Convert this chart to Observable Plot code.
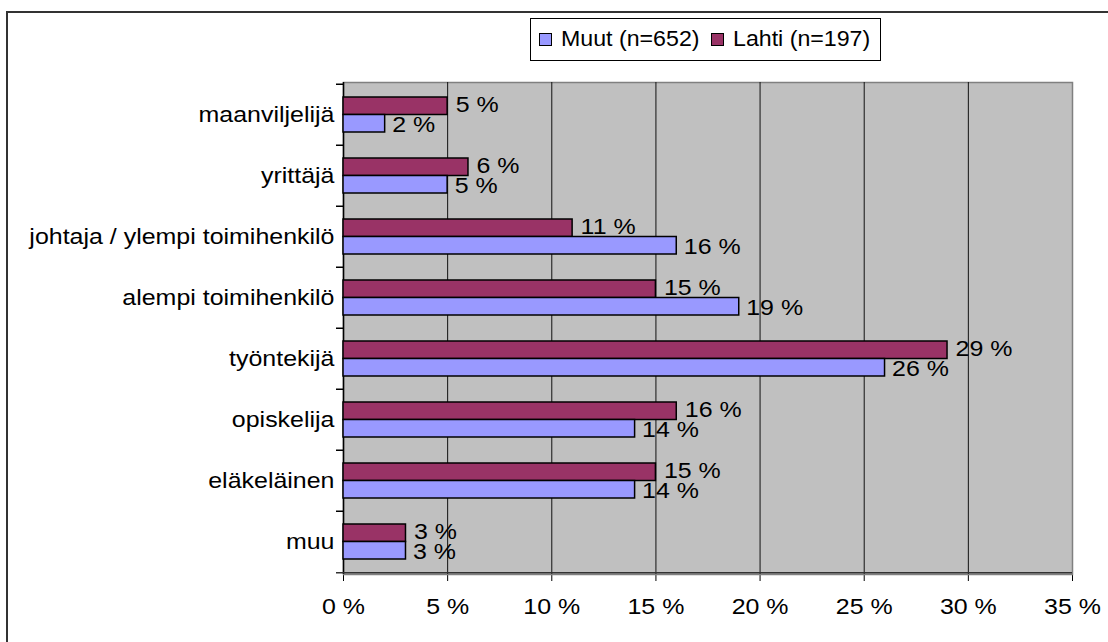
<!DOCTYPE html>
<html>
<head>
<meta charset="utf-8">
<script src="https://cdn.jsdelivr.net/npm/d3@7"></script>
<script src="https://cdn.jsdelivr.net/npm/@observablehq/plot@0.6"></script>
<style>
  html, body { margin: 0; padding: 0; background: #fff; }
  #wrap { position: relative; width: 1108px; height: 642px; overflow: hidden; font-family: "Liberation Sans", Arial, sans-serif; }
  #border { position: absolute; left: 6px; top: 11px; width: 1200px; height: 800px; border-top: 2px solid #333; border-left: 2px solid #333; }
  #legend { position: absolute; left: 530px; top: 18px; width: 351px; height: 43px; border: 1px solid #000; background: #fff; box-sizing: border-box; font-size: 22.5px; color: #000; }
  .sw { position: absolute; top: 14px; width: 11px; height: 11px; border: 1.5px solid #000; }
  .lt { position: absolute; top: 7px; white-space: nowrap; transform: scaleX(1.03); transform-origin: left center; line-height: 26px; }
  #chart { position: absolute; left: 0; top: 0; }
</style>
</head>
<body>
<div id="wrap">
  <div id="border"></div>
  <div id="chart"></div>
  <div id="legend"></div>
</div>
<script>
const categories = ["maanviljelijä", "yrittäjä", "johtaja / ylempi toimihenkilö", "alempi toimihenkilö", "työntekijä", "opiskelija", "eläkeläinen", "muu"];
const muut = [2, 5, 16, 19, 26, 14, 14, 3];
const lahti = [5, 6, 11, 15, 29, 16, 15, 3];
const xTicks = [0, 5, 10, 15, 20, 25, 30, 35];
const seriesNames = ["Muut (n=652)", "Lahti (n=197)"];
const colors = ["#9999FF", "#993366"];

const rows = categories.map((c, i) => ({cat: c, muut: muut[i], lahti: lahti[i]}));
const lastCat = [categories[categories.length - 1]];
const gridTicks = xTicks.filter(t => t > 0 && t < 35);

const chart = Plot.plot({
  width: 1108,
  height: 642,
  marginLeft: 343,
  marginRight: 36,
  marginTop: 82,
  marginBottom: 68,
  style: {fontFamily: "'Liberation Sans', Arial, sans-serif", fontSize: "22.5px", color: "#000", background: "transparent", overflow: "visible"},
  x: {domain: [0, 35], ticks: xTicks, tickFormat: d => d + " %", tickSize: 7, tickPadding: 17, label: null},
  y: {domain: categories, padding: 0, tickSize: 0, tickPadding: 9, label: null},
  marks: [
    Plot.frame({fill: "#C0C0C0", stroke: "#808080", strokeWidth: 1.5}),
    Plot.ruleX(gridTicks, {stroke: "#111", strokeWidth: 1}),
    Plot.ruleX([0], {stroke: "#000", strokeWidth: 1.5}),
    Plot.ruleY(categories, {y: d => d, x1: 0, x2: 0, insetLeft: -7, dy: -30.75, stroke: "#000", strokeWidth: 1.5}),
    Plot.ruleY(lastCat, {y: d => d, x1: 0, x2: 35, insetLeft: -7, dy: 30.75, stroke: "#333", strokeWidth: 1.5}),
    Plot.barX(rows, {y: "cat", x1: 0, x2: "lahti", insetTop: 13, insetBottom: 30.5, fill: colors[1], stroke: "#000", strokeWidth: 1.5}),
    Plot.barX(rows, {y: "cat", x1: 0, x2: "muut", insetTop: 30.5, insetBottom: 13, fill: colors[0], stroke: "#000", strokeWidth: 1.5}),
    Plot.text(rows, {y: "cat", x: "lahti", text: d => d.lahti + " %", dx: 8, dy: -10, textAnchor: "start", lineAnchor: "middle", fill: "#000"}),
    Plot.text(rows, {y: "cat", x: "muut", text: d => d.muut + " %", dx: 7, dy: 10, textAnchor: "start", lineAnchor: "middle", fill: "#000"})
  ]
});
document.getElementById("chart").appendChild(chart);

// widen the glyphs horizontally (the reference rendering is slightly stretched)
const sx = 1.11;
chart.querySelectorAll("text").forEach(t => {
  const x = parseFloat(t.getAttribute("x")) || 0;
  const tr = t.getAttribute("transform") || "";
  t.setAttribute("transform", `${tr} translate(${x},0) scale(${sx},1) translate(${-x},0)`);
});

const legend = document.getElementById("legend");
const swLeft = [8, 180];
seriesNames.forEach((name, i) => {
  const sw = document.createElement("span");
  sw.className = "sw";
  sw.style.left = swLeft[i] + "px";
  sw.style.background = colors[i];
  legend.appendChild(sw);
  const lt = document.createElement("span");
  lt.className = "lt";
  lt.style.left = (swLeft[i] + 22) + "px";
  lt.textContent = name;
  legend.appendChild(lt);
});
</script>
</body>
</html>
